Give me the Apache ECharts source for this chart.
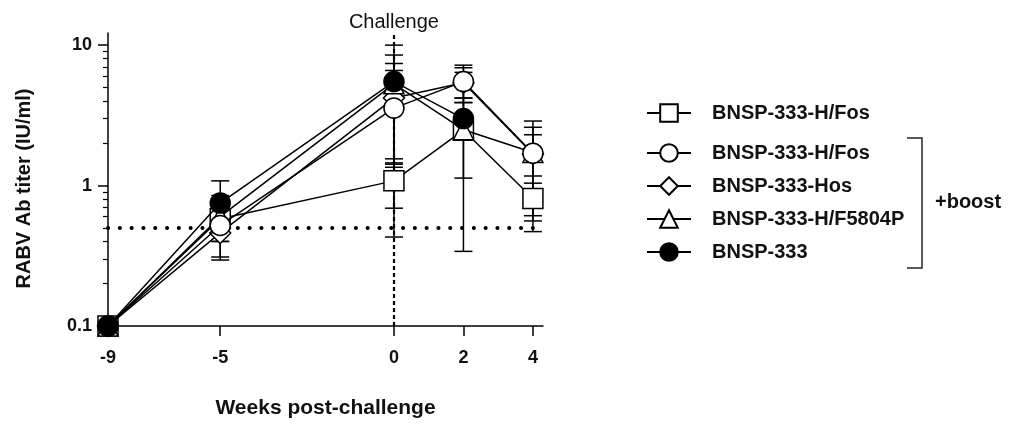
<!DOCTYPE html>
<html><head><meta charset="utf-8">
<script src="https://cdn.jsdelivr.net/npm/echarts@6/dist/echarts.min.js"></script>
<style>html,body{margin:0;padding:0;background:#fff}#c{width:1012px;height:428px}</style>
</head><body><div id="c"></div>
<script>
// x tick labels (weeks post-challenge) and where each sits on the (broken) axis
const weekLabels = ['-9', '-5', '0', '2', '4'];
const weekPos = [-8.23, -5, 0, 2, 4];

// y axis ticks
const yMajorTicks = [0.1, 1, 10];
const yMinorTicks = [0.2,0.3,0.4,0.5,0.6,0.7,0.8,0.9,2,3,4,5,6,7,8,9];

// series names (legend text)
const seriesNames = ['BNSP-333-H/Fos', 'BNSP-333-H/Fos (boost)', 'BNSP-333-Hos', 'BNSP-333-H/F5804P', 'BNSP-333'];
const legendLabels = ['BNSP-333-H/Fos', 'BNSP-333-H/Fos', 'BNSP-333-Hos', 'BNSP-333-H/F5804P', 'BNSP-333'];

// means (IU/ml) at each week, with lower / upper error bar ends
const hfosMean  = [0.1, 0.58, 1.08, 2.48, 0.81];
const hfosLow   = [null, 0.45, 0.69, 0.34, 0.47];
const hfosHigh  = [null, 0.70, 1.45, 4.2, 1.04];

const hfosBMean = [0.1, 0.52, 3.56, 5.5, 1.7];
const hfosBLow  = [null, 0.40, 0.43, 4.2, 1.17];
const hfosBHigh = [null, 0.66, 6.6, 7.2, 2.6];

const hosMean   = [0.1, 0.46, 4.2, 5.4, 1.68];
const hosLow    = [null, 0.295, 1.35, 3.9, 0.56];
const hosHigh   = [null, 0.62, 7.4, 6.9, 2.3];

const f5804Mean = [0.1, 0.6, 5.3, 2.5, 1.72];
const f5804Low  = [null, 0.31, 1.42, 1.13, 0.61];
const f5804High = [null, 0.85, 8.5, 3.9, 2.88];

const b333Mean  = [0.1, 0.75, 5.5, 3.0, null];
const b333Low   = [null, 0.40, 1.55, 2.3, null];
const b333High  = [null, 1.08, 10.0, 6.4, null];

const challengeWeek = 0;
const protectiveLevel = 0.5;

const groups = [
  {name: seriesNames[0], mean: hfosMean, low: hfosLow, high: hfosHigh, symbol: 'rect', size: 20, fill: '#fff'},
  {name: seriesNames[2], mean: hosMean, low: hosLow, high: hosHigh, symbol: 'diamond', size: 21, fill: '#fff'},
  {name: seriesNames[3], mean: f5804Mean, low: f5804Low, high: f5804High, symbol: 'triangle', size: 20, fill: '#fff'},
  {name: seriesNames[1], mean: hfosBMean, low: hfosBLow, high: hfosBHigh, symbol: 'circle', size: 20, fill: '#fff'},
  {name: seriesNames[4], mean: b333Mean, low: b333Low, high: b333High, symbol: 'circle', size: 20, fill: '#000'}
];

function errRender(params, api) {
  const x = api.value(0), lo = api.value(1), hi = api.value(2);
  const p1 = api.coord([x, lo]), p2 = api.coord([x, hi]);
  const w = 9;
  const style = {stroke: '#000', lineWidth: 1.5};
  return {type: 'group', children: [
    {type: 'line', shape: {x1: p1[0], y1: p1[1], x2: p2[0], y2: p2[1]}, style},
    {type: 'line', shape: {x1: p1[0]-w, y1: p1[1], x2: p1[0]+w, y2: p1[1]}, style},
    {type: 'line', shape: {x1: p2[0]-w, y1: p2[1], x2: p2[0]+w, y2: p2[1]}, style}
  ]};
}

const font = 'Liberation Sans, Arial, sans-serif';
const series = [];
groups.forEach(function (g, gi) {
  const errData = [];
  weekPos.forEach(function (x, i) {
    if (g.low[i] != null) errData.push([x, g.low[i], g.high[i]]);
  });
  const s = {
    type: 'custom', name: g.name + ' err', renderItem: errRender, data: errData,
    encode: {x: 0, y: [1, 2]}, z: 2, silent: true, animation: false
  };
  if (gi === 0) {
    s.markLine = {
      silent: true, symbol: 'none', animation: false, z: 1,
      data: [
        {xAxis: challengeWeek, lineStyle: {type: [4, 3], width: 2.2, color: '#000'},
         label: {show: true, position: 'end', formatter: 'Challenge', color: '#111', fontSize: 20, distance: 1, fontFamily: font}},
        {yAxis: protectiveLevel, lineStyle: {type: [0.1, 11.7], width: 4, color: '#000', cap: 'round'},
         label: {show: false}}
      ]
    };
  }
  series.push(s);
});
groups.forEach(function (g, gi) {
  const lineData = [];
  weekPos.forEach(function (x, i) { if (g.mean[i] != null) lineData.push([x, g.mean[i]]); });
  series.push({
    type: 'line', name: g.name, data: lineData, symbol: g.symbol, symbolSize: g.size,
    showAllSymbol: true, z: 3 + gi, animation: false,
    lineStyle: {color: '#000', width: 1.5},
    itemStyle: {color: g.fill, borderColor: '#000', borderWidth: 1.5, opacity: 1}
  });
});

const legendFmt = function (name) { return legendLabels[seriesNames.indexOf(name)]; };
const legendCommon = {
  orient: 'vertical', left: 641, itemWidth: 44, itemHeight: 22, selectedMode: false,
  formatter: legendFmt,
  textStyle: {fontSize: 20, fontWeight: 'bold', color: '#111', lineHeight: 22, padding: [0, 0, 0, 16], fontFamily: font}
};

const option = {
  backgroundColor: '#fff',
  animation: false,
  textStyle: {fontFamily: font},
  grid: {left: 108, top: 33, right: 469, bottom: 102, containLabel: false},
  legend: [
    Object.assign({}, legendCommon, {top: 97, data: [seriesNames[0]]}),
    Object.assign({}, legendCommon, {top: 137, itemGap: 11, data: seriesNames.slice(1)})
  ],
  xAxis: {
    type: 'value', min: -8.23, max: 4.29,
    name: 'Weeks post-challenge', nameLocation: 'middle', nameGap: 72,
    nameTextStyle: {fontSize: 21, fontWeight: 'bold', color: '#111'},
    axisLine: {show: true, onZero: false, lineStyle: {color: '#000', width: 1.5}},
    axisTick: {show: true, length: 10, customValues: weekPos, lineStyle: {color: '#000', width: 1.5}},
    axisLabel: {customValues: weekPos, margin: 23, fontSize: 18, fontWeight: 'bold', color: '#111',
      formatter: function (v) { const i = weekPos.indexOf(v); return i >= 0 ? weekLabels[i] : ''; }},
    splitLine: {show: false}
  },
  yAxis: [{
    type: 'log', logBase: 10, min: 0.1, max: 12.2,
    name: 'RABV Ab titer (IU/ml)', nameLocation: 'middle', nameGap: 74,
    nameTextStyle: {fontSize: 20, fontWeight: 'bold', color: '#111', padding: [0, 0, 0, -18]},
    axisLine: {show: true, onZero: false, lineStyle: {color: '#000', width: 1.5}},
    axisTick: {show: true, length: 10, customValues: yMajorTicks, lineStyle: {color: '#000', width: 1.5}},
    axisLabel: {customValues: yMajorTicks, margin: 16, fontSize: 18, fontWeight: 'bold', color: '#111',
      formatter: function (v) { return String(+v.toPrecision(3)); }},
    splitLine: {show: false}
  }, {
    type: 'log', logBase: 10, min: 0.1, max: 12.2, position: 'left', offset: 0,
    axisLine: {show: false, onZero: false},
    axisTick: {show: true, length: 5, customValues: yMinorTicks, lineStyle: {color: '#000', width: 1.2}},
    axisLabel: {show: false},
    splitLine: {show: false}
  }],
  graphic: [
    {type: 'polyline', shape: {points: [[907, 138], [922, 138], [922, 268], [907, 268]]},
     style: {stroke: '#222', lineWidth: 1.5, fill: null}},
    {type: 'text', left: 935, top: 192, style: {text: '+boost', font: 'bold 20px ' + font, fill: '#111'}}
  ],
  series: series
};

const chart = echarts.init(document.getElementById('c'), null, {renderer: 'canvas'});
chart.setOption(option);
</script>
</body></html>
